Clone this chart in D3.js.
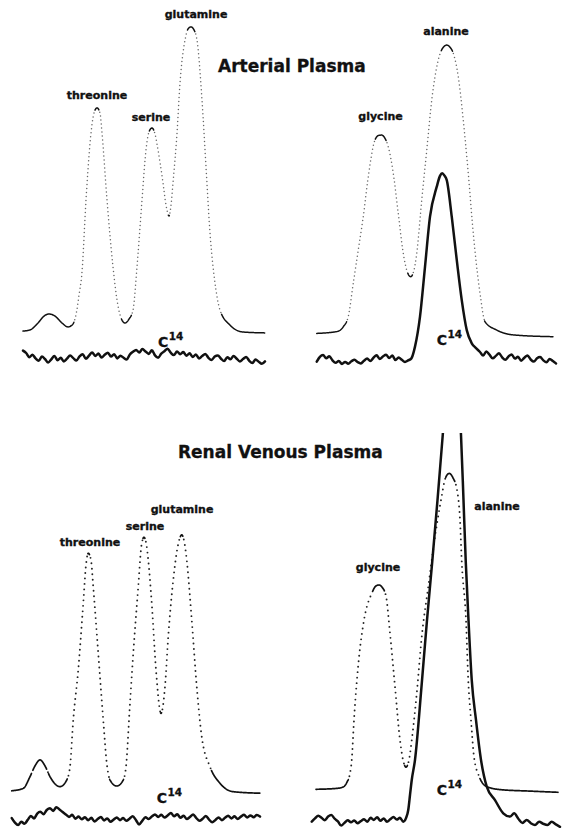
<!DOCTYPE html>
<html><head><meta charset="utf-8">
<script src="https://cdn.jsdelivr.net/npm/d3@7"></script>
<style>body{margin:0;background:#fff}svg{display:block}</style>
</head><body><svg id="c" width="565" height="833"></svg>
<script>
// ---------- DATA (retention units, detector response units) ----------
const titles = ["Arterial Plasma", "Renal Venous Plasma"];

// Arterial plasma, left: threonine / serine / glutamine (ninhydrin trace)
const artLeftTrace = [[1.2,1.3],[4,1.7],[7.2,4],[9.6,6.3],[11.6,7],[14,6.3],[16.8,4],[19.2,2.7],[20.8,3.3],[22.4,6.7],[23.6,13.3],[24.8,21],[26.4,45],[28.4,67.3],[29.6,74],[30.8,75.7],[32,74],[32.8,67.3],[34.8,45],[37.2,22.7],[38.8,11.7],[40.4,5.7],[42,4],[43.6,5.3],[45.2,8.3],[46.8,22.7],[48.8,45],[50.4,61.7],[51.6,67.7],[52.8,69],[54,67],[55.2,61.7],[57.2,50.7],[58.4,43.3],[59.6,39.7],[60.4,43.3],[61.2,50.7],[62.8,67.3],[64,84],[66,98.3],[67.2,102],[68.4,102.7],[69.6,101.7],[70.8,98.3],[72.8,78.3],[74.4,56],[76,34],[78,17.3],[80,8.3],[84,3.3],[89.2,1],[98,0.7]];
const artLeftC14X = [1.2, 98];
const artLeftC14 = [-5.2,-6.0,-7.4,-6.6,-7.8,-8.6,-7.2,-8.0,-9.2,-8.1,-7.0,-8.4,-7.6,-8.8,-7.9,-6.8,-7.7,-8.5,-7.1,-6.4,-7.9,-6.9,-5.8,-7.0,-6.2,-7.5,-6.6,-5.9,-7.2,-6.4,-7.8,-6.9,-7.6,-8.2,-6.5,-5.6,-5.0,-5.8,-4.7,-5.5,-6.3,-5.1,-6.8,-7.6,-6.2,-5.4,-4.6,-5.9,-6.7,-5.5,-6.4,-5.7,-6.9,-6.1,-7.3,-6.5,-7.8,-7.0,-6.3,-7.6,-8.3,-7.2,-6.8,-7.9,-8.7,-7.4,-8.1,-7.0,-7.9,-8.8,-8.0,-7.3,-8.6,-9.3,-8.2,-8.9,-9.6,-8.8];
const artLeftLabels = [["threonine",30.8,78.7],["serine",52.4,71.4],["glutamine",70.4,105.7]];
const artLeftC14Label = [55.2,-4];

// Arterial plasma, right: glycine / alanine
const artRightTrace = [[2.7,2.2],[10.7,2.8],[13.3,4.4],[15.3,7.8],[17.3,18.9],[19.3,30],[21.3,41.1],[23.3,54.4],[26,66.7],[27.5,68.2],[28.7,68.3],[30,67.2],[31.3,64.4],[33.3,55.6],[35.3,42.2],[37.3,28.9],[39,22.5],[40.3,21.1],[41.5,23],[42.7,28.9],[44.7,46.7],[46.7,63.3],[48.7,80],[51.3,93.3],[53,97.2],[54.7,98.3],[56,97.6],[57.3,95.6],[59.3,87.8],[61.3,73.3],[63.3,55.6],[65.3,35.6],[68,15.6],[70,6.1],[74.7,3.3],[81.3,1.7],[97.3,1.1]];
const artRightC14LeftX = [2.7, 40.5];
const artRightC14Left = [-7.2,-5.6,-5.0,-6.1,-5.4,-6.8,-7.6,-7.0,-8.0,-7.3,-7.9,-7.1,-6.6,-7.4,-7.8,-6.9,-6.2,-7.0,-5.9,-5.1,-6.3,-5.5,-4.9,-6.0,-5.2,-6.7,-5.8,-6.6,-7.3,-6.8,-6.2];
const artRightC14Peak = [[42,-2.2],[44,7.8],[46,24.4],[48,41.1],[50.7,51.1],[52,54.7],[52.9,55.6],[53.8,54.8],[54.7,53.3],[56.7,41.1],[58.7,26.7],[60.7,13.3],[62.7,3.3],[64.7,-1.1],[66.4,-2.7]];
const artRightC14RightX = [68, 98.4];
const artRightC14Right = [-4.0,-5.2,-3.8,-4.9,-6.1,-5.3,-4.4,-5.8,-6.6,-5.5,-4.8,-6.2,-5.6,-6.9,-5.9,-5.2,-6.5,-7.2,-6.1,-5.7,-6.8,-7.4,-6.3,-7.0,-7.8];
const artRightLabels = [["glycine",28.2,73.3],["alanine",54.4,101.7]];
const artRightC14Label = [50.7,-1.7];

// Renal venous plasma, left
const venLeftTrace = [[0.7,1.4],[5.3,2.2],[8,6.1],[10,9.7],[12,11.7],[14,9.7],[16,6.1],[20,2.8],[22.7,5],[24,9.4],[25.3,25],[27.3,41.7],[29.3,63.9],[30.4,76.7],[31.3,80.6],[32.4,78.3],[33.3,69.4],[35.3,47.2],[37.3,25],[38.7,10.6],[40,5],[42.7,3],[45.3,5],[46.4,9.4],[48,30.6],[49.3,47.2],[51.3,69.4],[52.6,83.3],[53.6,85.9],[54.6,83.3],[55.3,78.3],[56.7,63.9],[58.4,41.7],[60.4,27.2],[62,36.1],[63.3,52.8],[65.3,71.7],[67.2,83.3],[68.7,86.7],[69.8,84],[70.7,78.3],[72.7,58.3],[74.7,36.1],[76.7,19.4],[80,9.4],[84,3.9],[89.3,1.1],[100,0.6]];
const venLeftC14X = [0.7, 100];
const venLeftC14 = [-7.7,-9.2,-10.0,-8.9,-9.6,-8.3,-7.0,-7.8,-6.2,-5.6,-6.4,-5.0,-4.4,-5.3,-4.1,-4.8,-5.7,-6.5,-7.3,-6.6,-7.9,-7.2,-8.1,-7.4,-8.4,-7.6,-8.8,-8.0,-7.3,-8.5,-7.8,-8.9,-8.2,-7.5,-8.4,-7.7,-8.6,-7.9,-7.1,-8.3,-9.8,-8.6,-7.4,-8.0,-7.2,-6.5,-7.3,-6.6,-7.5,-6.8,-6.0,-7.1,-6.4,-7.6,-6.9,-8.0,-7.3,-6.5,-7.7,-8.6,-7.9,-7.0,-8.2,-9.1,-8.3,-7.5,-8.4,-7.6,-6.9,-7.8,-7.1,-8.0,-7.2,-6.6,-7.5,-6.8,-7.4,-6.7,-7.2];
const venLeftLabels = [["threonine",32,83],["serine",54,88.3],["glutamine",68.8,94]];
const venLeftC14Label = [58.7,-2.7];

// Renal venous plasma, right
const venRightTrace = [[2.4,1.9],[10.7,2.2],[13.3,2.7],[14.8,4.3],[16,7.2],[16.7,11.7],[17.6,25],[19.3,43.3],[21.6,58.3],[24.7,67.2],[26.4,69.7],[27.6,70],[28.8,69.3],[30.4,66.3],[32,53.9],[34,36.1],[36,18.3],[37.4,11],[38.4,9.3],[39.6,11.7],[40.7,18.3],[42.7,33.9],[44.7,52.8],[47.3,69.4],[50,86.1],[52.4,98.3],[54.2,105.7],[55.7,107.2],[57.2,105.7],[58.8,101.7],[60,91.7],[60.7,77.8],[62.4,58.3],[63.3,38.3],[64.4,25],[65.6,12.7],[67.6,6.3],[70.7,2.8],[76,1.8],[88,1.3],[99.3,0.9]];
const venRightC14LeftX = [0.7, 36];
const venRightC14Left = [-8.9,-7.8,-6.9,-7.6,-8.4,-7.2,-6.7,-7.9,-8.8,-10.2,-9.3,-8.4,-9.1,-8.5,-9.4,-8.7,-8.1,-8.9,-7.6,-8.3,-7.4,-8.6,-7.8,-8.9,-8.1,-7.3,-8.2,-7.6];
const venRightC14Peak = [[37.3,-8.9],[38.4,-7.7],[39.3,-5],[40,0],[40.7,5],[42,11.7],[44.6,36.1],[46.8,58.3],[48.9,77.8],[51,98.3],[53.1,120],[54.8,136.7],[56.8,142.3],[58.8,136.7],[60.4,120],[61.4,98.3],[62.3,77.8],[63.4,58.3],[64.7,38.3],[66.4,25],[68.4,11.7],[70.7,2.8],[74,-1.7],[77.3,-6.1]];
const venRightC14RightX = [80, 100];
const venRightC14Right = [-7.2,-6.1,-7.9,-9.3,-8.3,-9.4,-10,-8.9,-9.6,-10,-8.9,-9.8,-10.6];
const venRightLabels = [["glycine",27.2,74.7],["alanine",74.8,95]];
const venRightC14Label = [50.7,0];

// ---------- LAYOUT ----------
const svg = d3.select("#c");
const FONT = "'DejaVu Sans', Verdana, sans-serif";

function evenSeries(xr, ys) {
  const step = (xr[1] - xr[0]) / (ys.length - 1);
  return ys.map((y, i) => [xr[0] + i * step, y]);
}

function drawTrace(g, pts, xs, ys, o) {
  const line = d3.line().x(d => xs(d[0])).y(d => ys(d[1])).curve(d3.curveMonotoneX);
  const d = line(pts);
  if (!o.dotted) {
    g.append("path").attr("d", d).attr("fill", "none").attr("stroke", "#111")
      .attr("stroke-width", o.w).attr("stroke-linejoin", "round").attr("stroke-linecap", "round");
    return;
  }
  const tmp = g.append("path").attr("d", d).attr("fill", "none");
  const node = tmp.node(), L = node.getTotalLength();
  const step = 0.5, s = [];
  for (let l = 0; l <= L; l += step) s.push(node.getPointAtLength(l));
  tmp.remove();
  const steep = s.map((p, i) => {
    const a = s[Math.max(0, i - 2)], b = s[Math.min(s.length - 1, i + 2)];
    return Math.abs(b.y - a.y) > o.thr * Math.abs(b.x - a.x);
  });
  let i = 0;
  const every = Math.round(o.gap / step);
  while (i < s.length) {
    let j = i;
    while (j + 1 < s.length && steep[j + 1] === steep[i]) j++;
    const run = s.slice(i, j + 1);
    if (steep[i]) {
      for (let k = Math.round(every / 2); k < run.length; k += every)
        g.append("circle").attr("cx", run[k].x).attr("cy", run[k].y).attr("r", o.r).attr("fill", o.dotColor);
    } else {
      g.append("path").attr("d", d3.line().x(p => p.x).y(p => p.y)(run))
        .attr("fill", "none").attr("stroke", "#111").attr("stroke-width", o.w)
        .attr("stroke-linejoin", "round").attr("stroke-linecap", "round");
    }
    i = j + 1;
  }
}

function labels(g, list, xs, ys, size) {
  g.selectAll(null).data(list).enter().append("text")
    .attr("x", d => xs(d[1])).attr("y", d => ys(d[2]))
    .attr("text-anchor", "middle").attr("font-family", FONT).attr("font-weight", "bold")
    .attr("font-size", size).attr("fill", "#111").attr("stroke", "#111").attr("stroke-width", 0.35)
    .text(d => d[0]);
}
function c14Label(g, pos, xs, ys) {
  const t = g.append("text").attr("x", xs(pos[0])).attr("y", ys(pos[1]))
    .attr("font-family", FONT).attr("font-weight", "bold").attr("fill", "#111")
    .attr("stroke", "#111").attr("stroke-width", 0.3);
  t.append("tspan").attr("font-size", 14).text("C");
  t.append("tspan").attr("font-size", 10.5).attr("dy", -7).attr("dx", 0.5).text("14");
}

const panels = [
  {x: [20, 270], y: [335, 35], trace: artLeftTrace, c14: [evenSeries(artLeftC14X, artLeftC14)],
   labels: artLeftLabels, c14l: artLeftC14Label, style: "light"},
  {x: [310, 560], y: [340, 40], trace: artRightTrace,
   c14: [evenSeries(artRightC14LeftX, artRightC14Left).concat(artRightC14Peak, evenSeries(artRightC14RightX, artRightC14Right))],
   labels: artRightLabels, c14l: artRightC14Label, style: "light"},
  {x: [10, 260], y: [795, 495], trace: venLeftTrace, c14: [evenSeries(venLeftC14X, venLeftC14)],
   labels: venLeftLabels, c14l: venLeftC14Label, style: "dark"},
  {x: [310, 560], y: [795, 495], trace: venRightTrace,
   c14: [evenSeries(venRightC14LeftX, venRightC14Left).concat(venRightC14Peak, evenSeries(venRightC14RightX, venRightC14Right))],
   labels: venRightLabels, c14l: venRightC14Label, style: "dark", clipTop: 433}
];

svg.append("defs").append("clipPath").attr("id", "clipBR")
  .append("rect").attr("x", 300).attr("y", 433).attr("width", 265).attr("height", 400);

panels.forEach(p => {
  const xs = d3.scaleLinear().domain([0, 100]).range(p.x);
  const ys = d3.scaleLinear().domain([0, 100]).range(p.y);
  const g = svg.append("g");
  const light = p.style === "light";
  drawTrace(g, p.trace, xs, ys, {dotted: true, thr: 2.3, gap: light ? 4.2 : 5.5,
    r: light ? 0.75 : 0.95, dotColor: light ? "#666" : "#222", w: light ? 1.5 : 1.7});
  const cg = svg.append("g");
  if (p.clipTop) cg.attr("clip-path", "url(#clipBR)");
  p.c14.forEach(s => drawTrace(cg, s, xs, ys, {dotted: false, w: 2.5}));
  labels(g, p.labels, xs, ys, 11);
  c14Label(g, p.c14l, xs, ys);
});

svg.append("text").attr("x", 218).attr("y", 72).attr("font-family", FONT).attr("font-weight", "bold")
  .attr("font-size", 17).attr("fill", "#111").attr("stroke", "#111").attr("stroke-width", 0.3).text(titles[0]);
svg.append("text").attr("x", 178).attr("y", 458).attr("font-family", FONT).attr("font-weight", "bold")
  .attr("font-size", 17).attr("fill", "#111").attr("stroke", "#111").attr("stroke-width", 0.3).text(titles[1]);
</script></body></html>
